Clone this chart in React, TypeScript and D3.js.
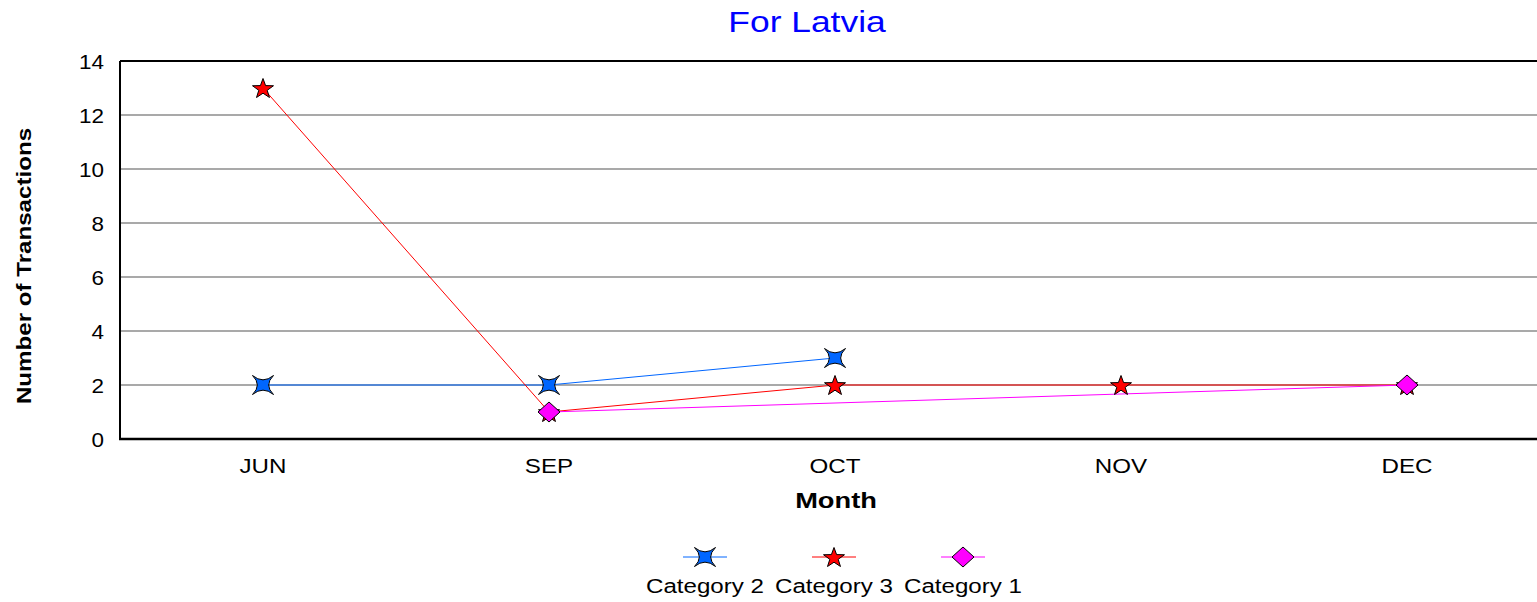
import React from "react";
import * as d3 from "d3";

const months = ["JUN", "SEP", "OCT", "NOV", "DEC"];
const category2: (number | null)[] = [2, 2, 3, null, null];
const category3: (number | null)[] = [13, 1, 2, 2, 2];
const category1: (number | null)[] = [null, 1, null, null, 2];
const yTicks = [0, 2, 4, 6, 8, 10, 12, 14];

const W = 1537;
const H = 602;
const plot = { left: 120, top: 61, right: 1550, bottom: 439 };
const FONT = "'Liberation Sans', Arial, sans-serif";

type Series = { name: string; values: (number | null)[]; color: string; marker: string };

// X-shaped four-point star (tips on the diagonals, concave sides)
const starX = (rx: number, ry: number) => {
  const c = -0.8;
  return (
    `M${-rx},${-ry}Q0,${c} ${rx},${-ry}` +
    `Q${-c},0 ${rx},${ry}` +
    `Q0,${-c} ${-rx},${ry}` +
    `Q${c},0 ${-rx},${-ry}Z`
  );
};
const star5 = (R: number, r: number) => {
  const pts: string[] = [];
  for (let i = 0; i < 10; i++) {
    const rad = i % 2 === 0 ? R : r;
    const a = -Math.PI / 2 + (i * Math.PI) / 5;
    pts.push(`${(rad * Math.cos(a) * 1.05).toFixed(2)},${(rad * Math.sin(a) + 1).toFixed(2)}`);
  }
  return "M" + pts.join("L") + "Z";
};
const diamond = (hw: number, hh: number) => `M0,${-hh}L${hw},0L0,${hh}L${-hw},0Z`;

const series: Series[] = [
  { name: "Category 2", values: category2, color: "#0066FF", marker: starX(10.5, 9.5) },
  { name: "Category 3", values: category3, color: "#FF0000", marker: star5(10.5, 4.2) },
  { name: "Category 1", values: category1, color: "#FF00FF", marker: diamond(11, 10) },
];

const SX = 1.15;

function T({ x, y, size, anchor = "middle", weight = "normal", fill = "#000", sx = SX, rotate = 0, children }: any) {
  return (
    <text
      transform={`translate(${x},${y}) rotate(${rotate}) scale(${sx},1)`}
      fontFamily={FONT}
      fontSize={size}
      fontWeight={weight}
      textAnchor={anchor}
      fill={fill}
    >
      {children}
    </text>
  );
}

export default function App() {
  const x = d3.scaleBand<string>().domain(months).range([plot.left, plot.right]).padding(0);
  const y = d3.scaleLinear().domain([0, 14]).range([plot.bottom, plot.top]);
  const cx = (m: string) => (x(m) as number) + x.bandwidth() / 2;

  const line = d3
    .line<{ m: string; v: number }>()
    .x((d) => cx(d.m))
    .y((d) => y(d.v));

  const pts = (s: Series) =>
    s.values
      .map((v, i) => ({ m: months[i], v: v as number }))
      .filter((d) => d.v !== null && d.v !== undefined);

  const legendX = [705, 834, 963];

  return (
    <svg
      width={W}
      height={H}
      style={{ position: "absolute", left: 0, top: 0, background: "#fff" }}
    >
      <rect x={0} y={0} width={W} height={H} fill="#fff" />
      <T x={807} y={32} size={30} fill="#0000FF" sx={1.18}>
        For Latvia
      </T>

      {yTicks.map((t) =>
        t === 0 || t === 14 ? null : (
          <line key={t} x1={plot.left} x2={plot.right} y1={y(t)} y2={y(t)} stroke="#555" strokeWidth={1.2} />
        )
      )}
      <line x1={plot.left} x2={plot.right} y1={y(14)} y2={y(14)} stroke="#000" strokeWidth={2} />
      <line x1={plot.left} x2={plot.left} y1={plot.top} y2={plot.bottom} stroke="#000" strokeWidth={2} />
      <line x1={plot.left - 1} x2={plot.right} y1={plot.bottom} y2={plot.bottom} stroke="#000" strokeWidth={2.5} />

      {yTicks.map((t) => (
        <T key={t} x={104} y={y(t) + 8} size={21} anchor="end" sx={1.07}>
          {t}
        </T>
      ))}
      {months.map((m) => (
        <T key={m} x={cx(m)} y={473} size={21}>
          {m}
        </T>
      ))}

      <T x={836} y={508} size={22} weight="bold" sx={1.24}>
        Month
      </T>
      <T x={31} y={266} size={21} weight="bold" rotate={-90}>
        Number of Transactions
      </T>

      {series.map((s) => (
        <path key={s.name} d={line(pts(s)) || ""} fill="none" stroke={s.color} strokeWidth={1} />
      ))}
      {series.map((s) =>
        pts(s).map((d) => (
          <path
            key={s.name + d.m}
            d={s.marker}
            transform={`translate(${cx(d.m)},${y(d.v)})`}
            fill={s.color}
            stroke="#000"
            strokeWidth={1}
          />
        ))
      )}

      {series.map((s, i) => (
        <g key={s.name}>
          <line x1={legendX[i] - 22} x2={legendX[i] + 22} y1={557} y2={557} stroke={s.color} strokeWidth={1} />
          <path d={s.marker} transform={`translate(${legendX[i]},557)`} fill={s.color} stroke="#000" strokeWidth={1} />
          <T x={legendX[i]} y={593} size={21}>
            {s.name}
          </T>
        </g>
      ))}
    </svg>
  );
}
